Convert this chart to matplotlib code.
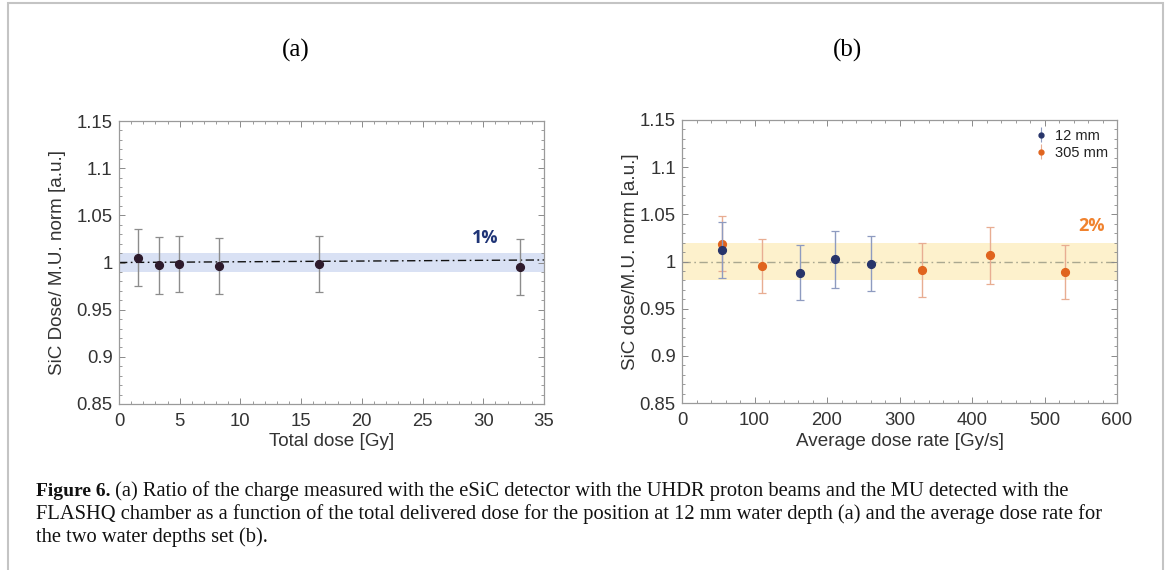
import matplotlib
matplotlib.use("Agg")
import matplotlib.pyplot as plt
from matplotlib.ticker import MultipleLocator
from matplotlib.patches import Rectangle

# ---- data panel (a) ----
dose_a = [1.6, 3.26, 4.9, 8.23, 16.47, 33.05]
ratio_a = [1.0053, 0.9970, 0.9985, 0.9965, 0.9985, 0.9952]
err_a = [0.030, 0.030, 0.030, 0.030, 0.030, 0.030]
fit_x_a = [0, 35]
fit_y_a = [1.0, 1.0027]
band_a = [0.99, 1.01]

# ---- data panel (b) ----
rate_12 = [55.5, 163, 211, 261]
ratio_12 = [1.0121, 0.9883, 1.0024, 0.9976]
err_12 = [0.030, 0.029, 0.030, 0.029]
rate_305 = [55.5, 111, 331.5, 425.5, 528]
ratio_305 = [1.0190, 0.9952, 0.9910, 1.0066, 0.9890]
err_305 = [0.029, 0.029, 0.029, 0.030, 0.029]
band_b = [0.98, 1.02]
ref_b = 1.0

yticks = [0.85, 0.9, 0.95, 1.0, 1.05, 1.1, 1.15]
ytick_labels = ["0.85", "0.9", "0.95", "1", "1.05", "1.1", "1.15"]
xticks_a = [0, 5, 10, 15, 20, 25, 30, 35]
xticks_b = [0, 100, 200, 300, 400, 500, 600]

caption_bold = "Figure 6."
caption_line1 = " (a) Ratio of the charge measured with the eSiC detector with the UHDR proton beams and the MU detected with the"
caption_line2 = "FLASHQ chamber as a function of the total delivered dose for the position at 12 mm water depth (a) and the average dose rate for"
caption_line3 = "the two water depths set (b)."

sans = ["Liberation Sans", "DejaVu Sans"]
serif = ["Liberation Serif", "DejaVu Serif"]

fig = plt.figure(figsize=(11.67, 5.70), dpi=100)
W, H = 1167, 570

def frac(x0, y0, x1, y1):
    return [x0 / W, 1 - y1 / H, (x1 - x0) / W, (y1 - y0) / H]

# outer border
fig.patches.append(Rectangle((8 / W, -0.05), (1163 - 8) / W, 1.05 - 3 / H,
                             transform=fig.transFigure, fill=False,
                             edgecolor="#c4c4c4", lw=1.5))

axA = fig.add_axes(frac(119, 121, 544, 404))
axB = fig.add_axes(frac(682, 120, 1117, 403))

TICK_FS = 13.3
LAB_FS = 13.6

def style(ax, xticks):
    for s in ax.spines.values():
        s.set_color("#9a9a9a")
        s.set_linewidth(0.9)
    ax.set_ylim(0.85, 1.15)
    ax.yaxis.set_minor_locator(MultipleLocator(0.01))
    ax.set_yticks(yticks)
    ax.set_yticklabels(ytick_labels, family=sans)
    ax.set_xticks(xticks)
    ax.set_xticklabels([str(v) for v in xticks], family=sans)
    ax.tick_params(which="both", direction="in", top=True, right=True,
                   color="#8a8a8a", labelsize=TICK_FS, labelcolor="#333333")
    ax.tick_params(axis="x", which="major", pad=6.5)
    ax.tick_params(axis="y", which="major", pad=4.5)
    ax.tick_params(which="major", length=4, width=0.7)
    ax.tick_params(which="minor", length=2.2, width=0.6)

# ---- panel (a) ----
axA.axhspan(band_a[0], band_a[1], color="#d9e1f4", lw=0, zorder=0)
axA.plot(fit_x_a, fit_y_a, color="#111111", lw=1.0, dashes=(6, 2.5, 1.2, 2.5), zorder=2)
axA.errorbar(dose_a, ratio_a, yerr=err_a, fmt="o", ms=5.6, color="#2d1a2b",
             ecolor="#8c8c8c", elinewidth=1.0, capsize=3.2, capthick=0.9, zorder=3)
axA.set_xlim(0, 35)
axA.xaxis.set_minor_locator(MultipleLocator(1))
style(axA, xticks_a)
axA.set_xlabel("Total dose [Gy]", family=sans, fontsize=LAB_FS, color="#333333", labelpad=2.5)
axA.set_ylabel("SiC Dose/ M.U. norm [a.u.]", family=sans, fontsize=LAB_FS, color="#333333", labelpad=7.5)
axA.text(30.15, 1.0264, "1%", color="#1f3476", fontsize=13, fontweight="bold",
         family=["Open Sans", "DejaVu Sans"], ha="center", va="center")

# ---- panel (b) ----
axB.axhspan(band_b[0], band_b[1], color="#fdf1cc", lw=0, zorder=0)
axB.axhline(ref_b, color="#aaa890", lw=1.0, dashes=(6, 2.5, 1.2, 2.5), zorder=1)
axB.errorbar(rate_305, ratio_305, yerr=err_305, fmt="o", ms=5.6, color="#e0641e",
             ecolor="#e8ad92", elinewidth=1.0, capsize=3.2, capthick=0.9, zorder=3)
axB.errorbar(rate_12, ratio_12, yerr=err_12, fmt="o", ms=5.6, color="#27346a",
             ecolor="#8e9bc0", elinewidth=1.0, capsize=3.2, capthick=0.9, zorder=4)
axB.set_xlim(0, 600)
axB.xaxis.set_minor_locator(MultipleLocator(20))
style(axB, xticks_b)
axB.set_xlabel("Average dose rate [Gy/s]", family=sans, fontsize=LAB_FS, color="#333333", labelpad=2.5)
axB.set_ylabel("SiC dose/M.U. norm [a.u.]", family=sans, fontsize=LAB_FS, color="#333333", labelpad=0.5)
axB.text(565, 1.038, "2%", color="#f0822e", fontsize=13, fontweight="bold",
         family=["Open Sans", "DejaVu Sans"], ha="center", va="center")

h12 = axB.errorbar([], [], yerr=[], fmt="o", ms=3.5, color="#27346a", ecolor="#8e9bc0",
                   elinewidth=0.8, capsize=2)
h305 = axB.errorbar([], [], yerr=[], fmt="o", ms=3.5, color="#e0641e", ecolor="#e8ad92",
                    elinewidth=0.8, capsize=2)
leg = axB.legend([h12, h305], ["12 mm", "305 mm"], loc="upper right", frameon=False,
                 prop={"family": sans, "size": 10.5}, handlelength=0.8, handletextpad=0.6,
                 labelspacing=0.2, borderaxespad=0.2)
for t in leg.get_texts():
    t.set_color("#222222")

# titles
fig.text(296 / W, 1 - 50 / H, "(a)", family=serif, fontsize=18, ha="center", va="center")
fig.text(848 / W, 1 - 50 / H, "(b)", family=serif, fontsize=18, ha="center", va="center")

# caption
cap_fs = 14.8
renderer = fig.canvas.get_renderer()
tb = fig.text(36 / W, 1 - 491 / H, caption_bold, family=serif, fontsize=14,
              fontweight="bold", ha="left", va="center", color="#111111")
bb = tb.get_window_extent(renderer)
fig.text(bb.x1 / W, 1 - 491 / H, caption_line1, family=serif, fontsize=cap_fs,
         ha="left", va="center", color="#111111")
fig.text(36 / W, 1 - 514 / H, caption_line2, family=serif, fontsize=cap_fs,
         ha="left", va="center", color="#111111")
fig.text(36 / W, 1 - 537 / H, caption_line3, family=serif, fontsize=cap_fs,
         ha="left", va="center", color="#111111")

fig.savefig("out.png", dpi=100)
